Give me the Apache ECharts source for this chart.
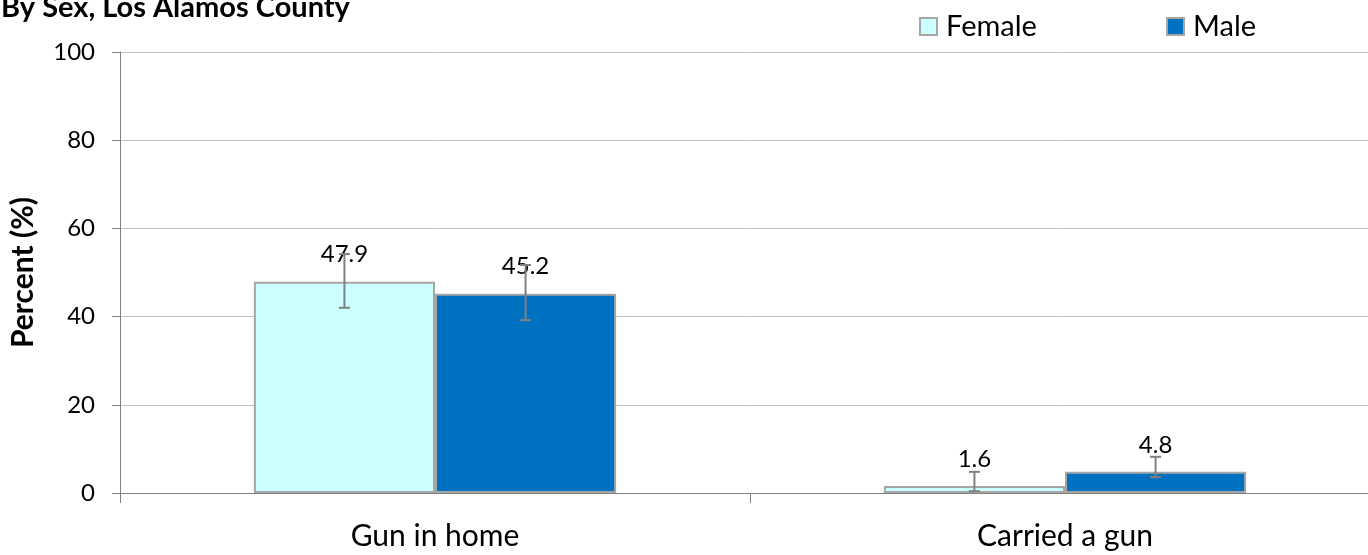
<!DOCTYPE html>
<html><head><meta charset="utf-8">
<script src="https://cdn.jsdelivr.net/npm/echarts@6/dist/echarts.min.js"></script>
<style>html,body{margin:0;padding:0;background:#fff}#c{width:1368px;height:555px}</style>
</head><body><div id="c"></div>
<script>
const categories = ['Gun in home', 'Carried a gun'];
const female = [47.9, 1.6];
const male = [45.2, 4.8];
const femaleLow = [42.0, 0.4];
const femaleHigh = [54.2, 4.8];
const maleLow = [39.2, 3.6];
const maleHigh = [51.7, 8.2];
const yTicks = [0, 20, 40, 60, 80, 100];

const FONT = 'Lato, "Open Sans", sans-serif';
const GAP = 0.425;

function errSeries(name, lows, highs, side) {
  return {
    type: 'custom', name: name + ' CI', silent: true, z: 5,
    data: lows.map((l, i) => [i, l, highs[i]]),
    renderItem: function (params, api) {
      const i = api.value(0);
      const lo = api.coord([i, api.value(1)]);
      const hi = api.coord([i, api.value(2)]);
      const band = api.size([1, 0])[0];
      const bw = band * (1 - GAP) / 2;
      const x = lo[0] + side * bw / 2;
      const cap = 5.5;
      const st = { stroke: '#808080', lineWidth: 2 };
      return { type: 'group', children: [
        { type: 'line', shape: { x1: x, y1: lo[1], x2: x, y2: hi[1] }, style: st },
        { type: 'line', shape: { x1: x - cap, y1: lo[1], x2: x + cap, y2: lo[1] }, style: st },
        { type: 'line', shape: { x1: x - cap, y1: hi[1], x2: x + cap, y2: hi[1] }, style: st }
      ]};
    }
  };
}

function legendAt(name, left) {
  return {
    left: left, top: 12, padding: 0, itemWidth: 17, itemHeight: 17, icon: 'rect',
    textStyle: { fontFamily: FONT, fontSize: 29, color: '#000', padding: [0, 0, 0, 4] },
    data: [name]
  };
}

const chart = echarts.init(document.getElementById('c'));
chart.setOption({
  animation: false,
  textStyle: { fontFamily: FONT },
  title: { text: 'By Sex, Los Alamos County', left: -4, top: -12,
    textStyle: { fontFamily: FONT, fontSize: 29, fontWeight: 'bold', color: '#000' } },
  legend: [legendAt('Female', 919), legendAt('Male', 1166)],
  grid: { left: 120, width: 1260, top: 52, bottom: 62, containLabel: false, outerBoundsMode: 'none' },
  xAxis: {
    type: 'category', data: categories,
    axisLine: { lineStyle: { color: '#808080', width: 1 } },
    axisTick: { show: true, length: 10, lineStyle: { color: '#808080' } },
    axisLabel: { fontFamily: FONT, fontSize: 30, color: '#000', margin: 28 }
  },
  yAxis: {
    type: 'value', min: 0, max: 100, interval: 20,
    name: 'Percent (%)', nameLocation: 'middle', nameGap: 82,
    nameTextStyle: { fontFamily: FONT, fontSize: 30, fontWeight: 'bold', color: '#000' },
    axisLine: { show: true, lineStyle: { color: '#808080' } },
    axisTick: { show: true, length: 8, lineStyle: { color: '#808080' } },
    axisLabel: { fontFamily: FONT, fontSize: 24, color: '#000', margin: 25,
      formatter: v => yTicks.includes(v) ? String(v) : '' },
    splitLine: { lineStyle: { color: '#c0c0c0', width: 1 } }
  },
  series: [
    { name: 'Female', type: 'bar', data: female, barGap: '0%', barCategoryGap: (GAP * 100) + '%',
      itemStyle: { color: '#ccffff', borderColor: '#a6a6a6', borderWidth: 2 },
      label: { show: true, position: 'top', distance: 15, fontFamily: FONT, fontSize: 24, color: '#000' } },
    { name: 'Male', type: 'bar', data: male, barGap: '0%', barCategoryGap: (GAP * 100) + '%',
      itemStyle: { color: '#0070c0', borderColor: '#a6a6a6', borderWidth: 2 },
      label: { show: true, position: 'top', distance: 15, fontFamily: FONT, fontSize: 24, color: '#000' } },
    errSeries('Female', femaleLow, femaleHigh, -1),
    errSeries('Male', maleLow, maleHigh, 1)
  ]
});
</script></body></html>
